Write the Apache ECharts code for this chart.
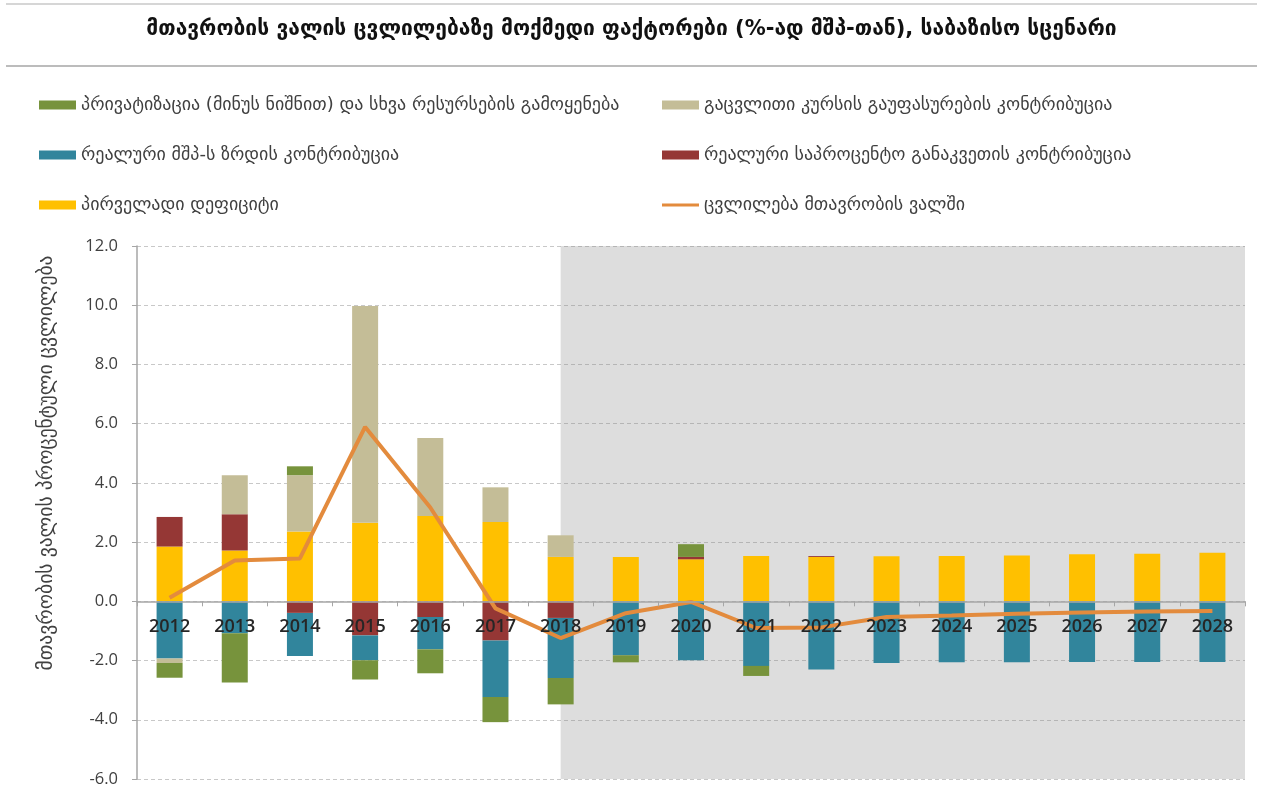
<!DOCTYPE html>
<html>
<head>
<meta charset="utf-8">
<script src="https://cdn.jsdelivr.net/npm/echarts@6/dist/echarts.min.js"></script>
<style>
  html, body { margin: 0; padding: 0; background: #ffffff; }
  #chart { width: 1263px; height: 787px; }
</style>
</head>
<body>
<div id="chart"></div>
<script>
// Years on the horizontal axis
const years = ['2012','2013','2014','2015','2016','2017','2018','2019','2020','2021','2022','2023','2024','2025','2026','2027','2028'];
// First year of the projection period (shaded)
const forecastFrom = '2018';

// Contributions to the change in government debt, % of GDP
const primaryDeficit = [1.85, 1.72, 2.36, 2.65, 2.88, 2.68, 1.50, 1.50, 1.42, 1.53, 1.50, 1.52, 1.53, 1.55, 1.59, 1.61, 1.64];
const realInterest   = [1.00, 1.22, -0.39, -1.15, -0.53, -1.32, -0.56, 0, 0.08, 0, 0.03, 0, 0, 0, 0, 0, 0];
const realGrowth     = [-1.93, -1.08, -1.46, -0.84, -1.09, -1.91, -2.03, -1.82, -1.99, -2.18, -2.30, -2.08, -2.06, -2.06, -2.05, -2.05, -2.05];
const exchangeRate   = [-0.15, 1.32, 1.90, 7.32, 2.64, 1.17, 0.73, 0, 0, 0, 0, 0, 0, 0, 0, 0, 0];
const privatization  = [-0.50, -1.66, 0.30, -0.65, -0.81, -0.85, -0.89, -0.24, 0.43, -0.34, 0, 0, 0, 0, 0, 0, 0];
const debtChange     = [0.12, 1.38, 1.45, 5.89, 3.17, -0.24, -1.24, -0.40, -0.02, -0.90, -0.88, -0.53, -0.48, -0.42, -0.38, -0.34, -0.33];

// Axis range
const yMin = -6, yMax = 12, yStep = 2;

const names = {
  priv: 'პრივატიზაცია (მინუს ნიშნით) და სხვა რესურსების გამოყენება',
  fx: 'გაცვლითი კურსის გაუფასურების კონტრიბუცია',
  growth: 'რეალური მშპ-ს ზრდის კონტრიბუცია',
  interest: 'რეალური საპროცენტო განაკვეთის კონტრიბუცია',
  deficit: 'პირველადი დეფიციტი',
  debt: 'ცვლილება მთავრობის ვალში'
};
const colors = {
  priv: '#77933C', fx: '#C4BD97', growth: '#31859C',
  interest: '#953735', deficit: '#FFC000', debt: '#E38B3D'
};

const geo = 'DejaVu Sans';
const num = 'Open Sans';

// plot box
const W = 1263, H = 787;
const gridLeft = 137, gridRight = 18, gridTop = 246, gridBottom = 8;
const plotH = H - gridTop - gridBottom;
// shift the category axis up from the bottom edge to the zero line
const zeroOffset = -plotH * (0 - yMin) / (yMax - yMin);

const chart = echarts.init(document.getElementById('chart'), null, { renderer: 'canvas' });

function legendAt(key, left, top, isLine) {
  return {
    data: [{ name: names[key], icon: 'rect' }],
    left: left, top: top, padding: 0,
    itemWidth: 37, itemHeight: isLine ? 3 : 9, itemGap: 0,
    selectedMode: false,
    textStyle: { fontFamily: geo, fontSize: 18, color: '#404040', padding: [0, 0, 0, 0] }
  };
}

function bar(key, data) {
  return {
    name: names[key], type: 'bar', stack: 'f', data: data,
    barWidth: 26, z: 2,
    itemStyle: { color: colors[key] }
  };
}

const forecastStart = years.indexOf(forecastFrom) + 0.5;

chart.setOption({
  animation: false,
  backgroundColor: '#ffffff',
  title: {
    text: 'მთავრობის ვალის ცვლილებაზე მოქმედი ფაქტორები (%-ად მშპ-თან), საბაზისო სცენარი',
    left: 'center', top: 14,
    textStyle: { fontFamily: geo, fontSize: 21, fontWeight: 'bold', color: '#111' }
  },
  legend: [
    legendAt('priv', 39, 96, false),
    legendAt('fx', 662, 96, false),
    legendAt('growth', 39, 146, false),
    legendAt('interest', 662, 146, false),
    legendAt('deficit', 39, 196, false),
    legendAt('debt', 662, 196, true)
  ],
  grid: { left: gridLeft, right: gridRight, top: gridTop, bottom: gridBottom,
          containLabel: false, outerBoundsMode: 'none' },
  xAxis: [{
    type: 'category', data: years, boundaryGap: true, z: 10,
    position: 'bottom', offset: zeroOffset,
    axisLine: { onZero: false, lineStyle: { color: '#A6A6A6', width: 1.5 } },
    axisTick: { show: true, alignWithLabel: false, length: 5, lineStyle: { color: '#A6A6A6' } },
    axisLabel: { margin: 17, fontFamily: num, fontSize: 18, fontWeight: 600, color: '#262626' },
    splitLine: { show: false }
  }, {
    type: 'value', min: 0, max: years.length, show: false
  }],
  yAxis: {
    type: 'value', min: yMin, max: yMax, interval: yStep,
    axisLine: { show: true, lineStyle: { color: '#A6A6A6', width: 1.5 } },
    axisTick: { show: true, length: 5, lineStyle: { color: '#A6A6A6' } },
    axisLabel: { margin: 19, fontFamily: num, fontSize: 16.5, color: '#404040',
      formatter: v => v.toFixed(1) },
    splitLine: { show: true, lineStyle: { color: '#C8C8C8', type: [4, 3], width: 1 } }
  },
  series: [
    bar('deficit', primaryDeficit),
    bar('interest', realInterest),
    bar('growth', realGrowth),
    bar('fx', exchangeRate),
    bar('priv', privatization),
    {
      // projection period shading
      type: 'line', xAxisIndex: 1, data: [], z: 3, silent: true,
      markArea: {
        silent: true,
        itemStyle: { color: 'rgba(128,128,128,0.27)' },
        data: [[{ xAxis: forecastStart, yAxis: yMin }, { xAxis: years.length, yAxis: yMax }]]
      }
    },
    {
      name: names.debt, type: 'line', data: debtChange, z: 5,
      symbol: 'none', smooth: false,
      lineStyle: { color: colors.debt, width: 4 },
      itemStyle: { color: colors.debt }
    }
  ],
  graphic: [
    { type: 'line', shape: { x1: 6, y1: 4, x2: 1257, y2: 4 }, style: { stroke: '#C8C8C8', lineWidth: 1.5 } },
    { type: 'line', shape: { x1: 6, y1: 66, x2: 1257, y2: 66 }, style: { stroke: '#A6A6A6', lineWidth: 1.5 } },
    {
      type: 'text', x: 47, y: 463, rotation: Math.PI / 2,
      style: {
        text: 'მთავრობის ვალის პროცენტული ცვლილება',
        fontFamily: geo, fontSize: 19.5, fill: '#404040',
        textAlign: 'center', textVerticalAlign: 'middle'
      }
    }
  ]
});
</script>
</body>
</html>
